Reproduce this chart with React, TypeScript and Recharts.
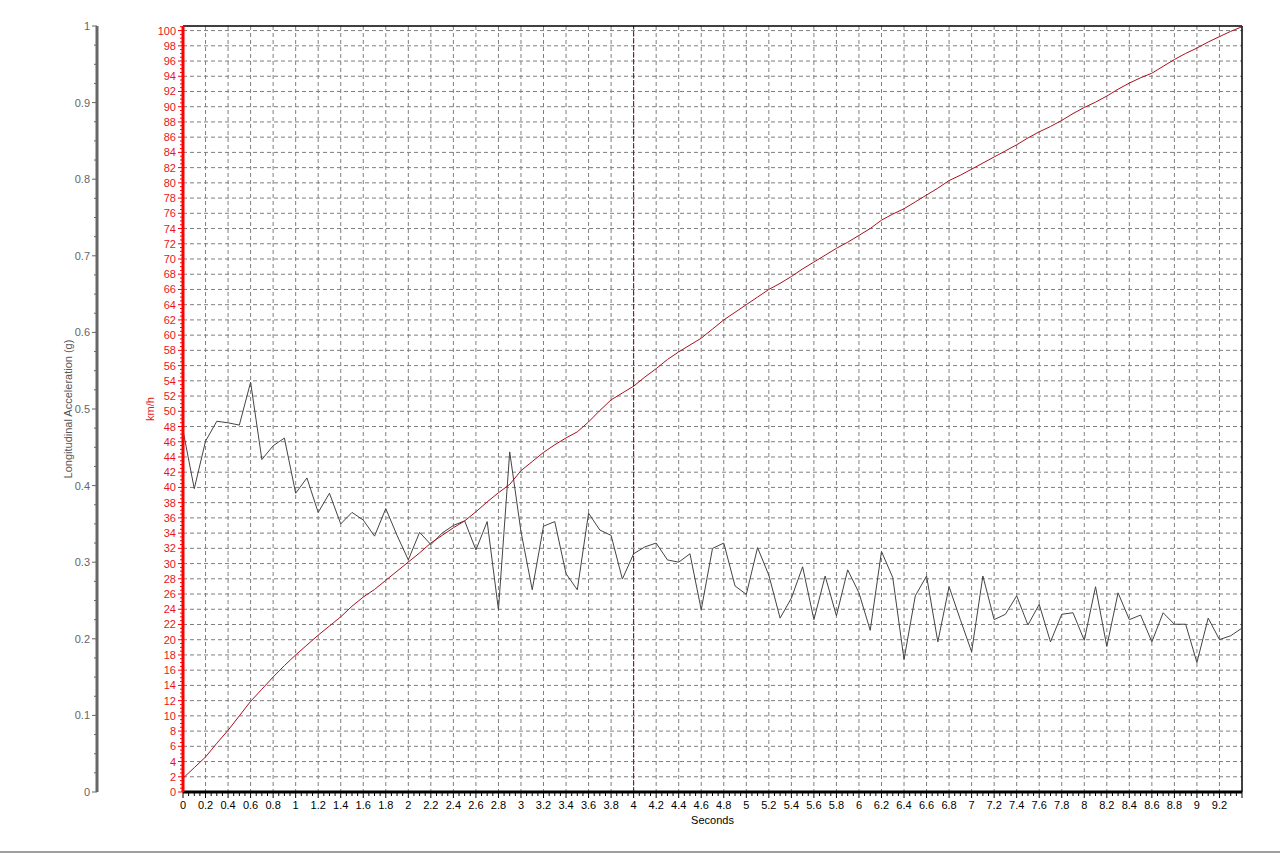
import { CartesianGrid, Line, LineChart, ReferenceLine, XAxis, YAxis } from "recharts";

// sample times (s)
const times = [
  0, 0.1, 0.2, 0.3, 0.4, 0.5, 0.6, 0.7, 0.8, 0.9,
  1, 1.1, 1.2, 1.3, 1.4, 1.5, 1.6, 1.7, 1.8, 1.9,
  2, 2.1, 2.2, 2.3, 2.4, 2.5, 2.6, 2.7, 2.8, 2.9,
  3, 3.1, 3.2, 3.3, 3.4, 3.5, 3.6, 3.7, 3.8, 3.9,
  4, 4.1, 4.2, 4.3, 4.4, 4.5, 4.6, 4.7, 4.8, 4.9,
  5, 5.1, 5.2, 5.3, 5.4, 5.5, 5.6, 5.7, 5.8, 5.9,
  6, 6.1, 6.2, 6.3, 6.4, 6.5, 6.6, 6.7, 6.8, 6.9,
  7, 7.1, 7.2, 7.3, 7.4, 7.5, 7.6, 7.7, 7.8, 7.9,
  8, 8.1, 8.2, 8.3, 8.4, 8.5, 8.6, 8.7, 8.8, 8.9,
  9, 9.1, 9.2, 9.3, 9.4,
];

// longitudinal acceleration (g)
const accel = [
  0.472, 0.396, 0.458, 0.484, 0.482, 0.479, 0.535, 0.434, 0.452, 0.462,
  0.39, 0.41, 0.365, 0.39, 0.35, 0.365, 0.355, 0.334, 0.37, 0.335,
  0.303, 0.339, 0.323, 0.338, 0.348, 0.354, 0.316, 0.353, 0.238, 0.444,
  0.34, 0.264, 0.347, 0.353, 0.285, 0.264, 0.364, 0.342, 0.335, 0.278,
  0.311, 0.32, 0.325, 0.303, 0.3, 0.311, 0.238, 0.318, 0.325, 0.269,
  0.258, 0.319, 0.283, 0.227, 0.253, 0.294, 0.225, 0.282, 0.23, 0.29,
  0.26, 0.211, 0.314, 0.28, 0.173, 0.256, 0.282, 0.196, 0.268, 0.225,
  0.183, 0.282, 0.225, 0.232, 0.256, 0.218, 0.245, 0.196, 0.232, 0.234,
  0.198, 0.268, 0.19, 0.26, 0.225, 0.231, 0.196, 0.234, 0.219, 0.219,
  0.169, 0.227, 0.199, 0.204, 0.214,
];

// speed (km/h)
const speed = [
  1.8, 3.2, 4.6, 6.4, 8.1, 10.0, 11.9, 13.5, 15.1, 16.6,
  18.0, 19.3, 20.6, 21.8, 23.0, 24.4, 25.6, 26.6, 27.8, 29.0,
  30.2, 31.4, 32.7, 33.7, 34.7, 35.6, 36.8, 38.1, 39.3, 40.4,
  42.2, 43.4, 44.6, 45.6, 46.5, 47.3, 48.6, 50.1, 51.5, 52.4,
  53.3, 54.5, 55.6, 56.8, 57.8, 58.7, 59.6, 60.8, 62.0, 63.0,
  64.0, 65.0, 66.0, 66.8, 67.7, 68.7, 69.6, 70.5, 71.4, 72.2,
  73.1, 74.0, 75.1, 75.9, 76.6, 77.5, 78.4, 79.3, 80.3, 81.0,
  81.8, 82.6, 83.4, 84.2, 85.0, 85.9, 86.7, 87.4, 88.2, 89.1,
  89.9, 90.6, 91.4, 92.3, 93.1, 93.8, 94.4, 95.3, 96.2, 97.0,
  97.7, 98.5, 99.2, 99.9, 100.5,
];

const data = times.map((t, i) => ({ t, accel: accel[i], speed: speed[i] }));

const X_MAX = 9.4;
const SPEED_MAX = 100.6;
const MARKER_TIME = 4;

// axis ids: the one that sorts first sits next to the plot
const SPEED_AXIS = "a-speed";
const ACCEL_AXIS = "b-accel";

const range = (n: number, step: number) =>
  Array.from({ length: n }, (_, i) => Math.round(i * step * 1000) / 1000);

const xMajorTicks = range(47, 0.2); // 0 .. 9.2
const xTicks = range(189, 0.05); // 0 .. 9.4
const speedMajorTicks = range(51, 2); // 0 .. 100
const speedTicks = range(202, 0.5); // 0 .. 100.5
const accelTicks = range(41, 0.025); // 0 .. 1

const FONT = "'Liberation Sans', Arial, sans-serif";
const fmt = (v: number) => String(Number(v.toFixed(2)));
const isMultiple = (v: number, step: number) =>
  Math.abs(v / step - Math.round(v / step)) < 1e-6;

const XTick = ({ x, y, payload }: any) => {
  const v = payload.value;
  const major = isMultiple(v, 0.2);
  return (
    <g>
      <line x1={x} x2={x} y1={y} y2={y + (major ? 6 : 4)} stroke="#000" />
      {major && v < 9.3 && (
        <text x={x} y={y + 13} textAnchor="middle" dominantBaseline="central"
          fontSize={11} fontFamily={FONT} fill="#000">
          {fmt(v)}
        </text>
      )}
    </g>
  );
};

const SpeedTick = ({ x, y, payload }: any) => {
  const v = payload.value;
  const major = isMultiple(v, 2);
  return (
    <g>
      <line x1={x - (major ? 5 : 3)} x2={x} y1={y} y2={y} stroke="#ff0000" />
      {major && (
        <text x={x - 7} y={y} textAnchor="end" dominantBaseline="central"
          fontSize={11} fontFamily={FONT} fill="#e8141c">
          {fmt(v)}
        </text>
      )}
    </g>
  );
};

const AccelTick = ({ x, y, payload }: any) => {
  const v = payload.value;
  const major = isMultiple(v, 0.1);
  return (
    <g>
      <line x1={x - (major ? 5 : 3)} x2={x} y1={y} y2={y} stroke="#666" />
      {major && (
        <text x={x - 7} y={y} textAnchor="end" dominantBaseline="central"
          fontSize={11} fontFamily={FONT} fill="#666">
          {fmt(v)}
        </text>
      )}
    </g>
  );
};

export default function App() {
  return (
    <div style={{ position: "absolute", left: 0, top: 0, width: 1280, background: "#fff", borderBottom: "2px solid #a0a0a0" }}>
      <LineChart width={1280} height={851} data={data}
        margin={{ top: 26, right: 38, left: 0, bottom: 23 }}>
        <CartesianGrid
          xAxisId="x"
          yAxisId={SPEED_AXIS}
          stroke="#7f7f7f"
          strokeDasharray="4 3"
          horizontalValues={speedMajorTicks}
          verticalValues={xMajorTicks}
        />
        <XAxis
          xAxisId="x"
          dataKey="t"
          type="number"
          domain={[0, X_MAX]}
          allowDataOverflow
          ticks={xTicks}
          interval={0}
          tickSize={0}
          tickMargin={0}
          tickLine={false}
          tick={<XTick />}
          axisLine={{ stroke: "#000", strokeWidth: 3 }}
          height={36}
          label={{ value: "Seconds", position: "insideBottom", offset: 4, fontSize: 11, fontFamily: FONT, fill: "#000" }}
        />
        <YAxis
          yAxisId={SPEED_AXIS}
          orientation="left"
          type="number"
          domain={[0, SPEED_MAX]}
          allowDataOverflow
          ticks={speedTicks}
          interval={0}
          tickSize={0}
          tickMargin={0}
          tickLine={false}
          tick={<SpeedTick />}
          axisLine={{ stroke: "#ff0000", strokeWidth: 3 }}
          width={86}
          label={{ value: "km/h", angle: -90, position: "insideLeft", offset: 53, fontSize: 11, fontFamily: FONT, fill: "#e8141c", style: { textAnchor: "middle" } }}
        />
        <YAxis
          yAxisId={ACCEL_AXIS}
          orientation="left"
          type="number"
          domain={[0, 1]}
          allowDataOverflow
          ticks={accelTicks}
          interval={0}
          tickSize={0}
          tickMargin={0}
          tickLine={false}
          tick={<AccelTick />}
          axisLine={{ stroke: "#666", strokeWidth: 3 }}
          width={97}
          label={{ value: "Longitudinal Acceleration (g)", angle: -90, position: "insideLeft", offset: 68, fontSize: 11, fontFamily: FONT, fill: "#555", style: { textAnchor: "middle" } }}
        />
        <ReferenceLine xAxisId="x" yAxisId={SPEED_AXIS} x={MARKER_TIME} stroke="#9b0000" strokeDasharray="5 2" />
        <ReferenceLine xAxisId="x" yAxisId={SPEED_AXIS} y={SPEED_MAX} stroke="#000" strokeWidth={1.5} />
        <ReferenceLine xAxisId="x" yAxisId={SPEED_AXIS} x={X_MAX} stroke="#000" strokeWidth={1.5} />
        <Line xAxisId="x" yAxisId={ACCEL_AXIS} type="linear" dataKey="accel" stroke="#444" strokeWidth={1}
          dot={false} isAnimationActive={false} />
        <Line xAxisId="x" yAxisId={SPEED_AXIS} type="linear" dataKey="speed" stroke="#a8101c" strokeWidth={1}
          dot={false} isAnimationActive={false} />
      </LineChart>
    </div>
  );
}
